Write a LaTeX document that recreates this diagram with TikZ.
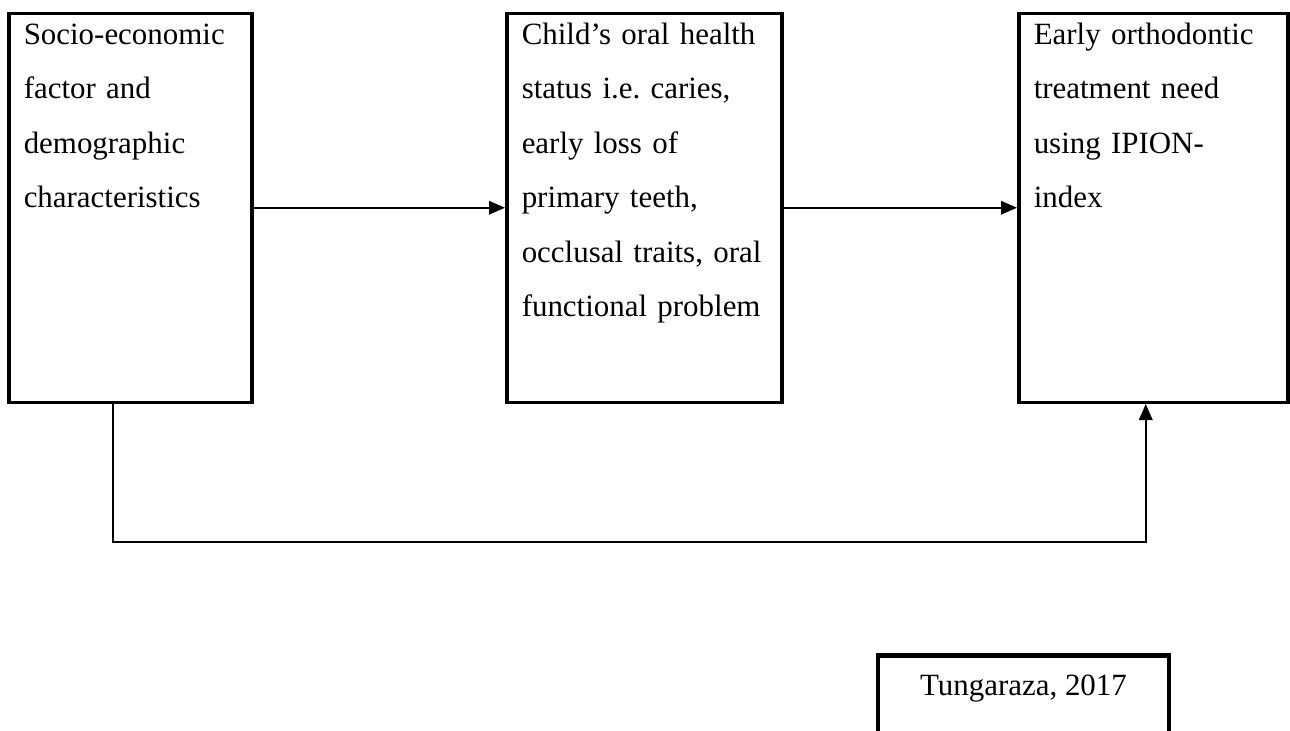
\documentclass[tikz,border=0pt]{standalone}
\usepackage{fontspec}
\setmainfont{Liberation Serif}
\frenchspacing
\usepackage{tikz}
\usetikzlibrary{positioning}
\usetikzlibrary{arrows.meta}
\usetikzlibrary{calc}
\tikzstyle{factorbox}=[draw,line width=2pt,anchor=north west,align=left,inner xsep=0.3cm,inner ysep=0pt,text height=0.62cm,text depth=7.16cm,font=\fontsize{17.6pt}{31pt}\selectfont]
\tikzstyle{citebox}=[draw,line width=2.8pt,anchor=north,align=center,inner xsep=0.3cm,inner ysep=0pt,minimum width=5.82cm,text height=0.8cm,text depth=2cm,font=\fontsize{17.6pt}{31pt}\selectfont]
\tikzstyle{edge} = [draw,line width=1.1pt,-{Triangle[length=0.32cm,width=0.27cm]}]

\begin{document}
\begin{tikzpicture}

   \useasboundingbox (0,0) rectangle (25.8,-14.6);

   \node[factorbox,text width=4.26cm] (socio) at (0.14,-0.23) {Socio-economic\\factor and\\demographic\\characteristics};
   \node[factorbox,text width=4.90cm] (oral) at (10.10,-0.23) {Child's oral health\\status i.e. caries,\\early loss of\\primary teeth,\\occlusal traits, oral\\functional problem};
   \node[factorbox,text width=4.78cm] (ortho) at (20.34,-0.23) {Early orthodontic\\treatment need\\using IPION-\\index};

   \foreach \source/\dest in {socio/oral, oral/ortho}
        \path[edge] (\source.east) -- (\dest.west);

   \path[edge] ([xshift=-0.35cm]socio.south) -- ++(0,-2.76) -| ([xshift=-0.15cm]ortho.south);

   \node[citebox] (cite) at (20.47,-13.06) {Tungaraza, 2017};

\end{tikzpicture}
\end{document}
